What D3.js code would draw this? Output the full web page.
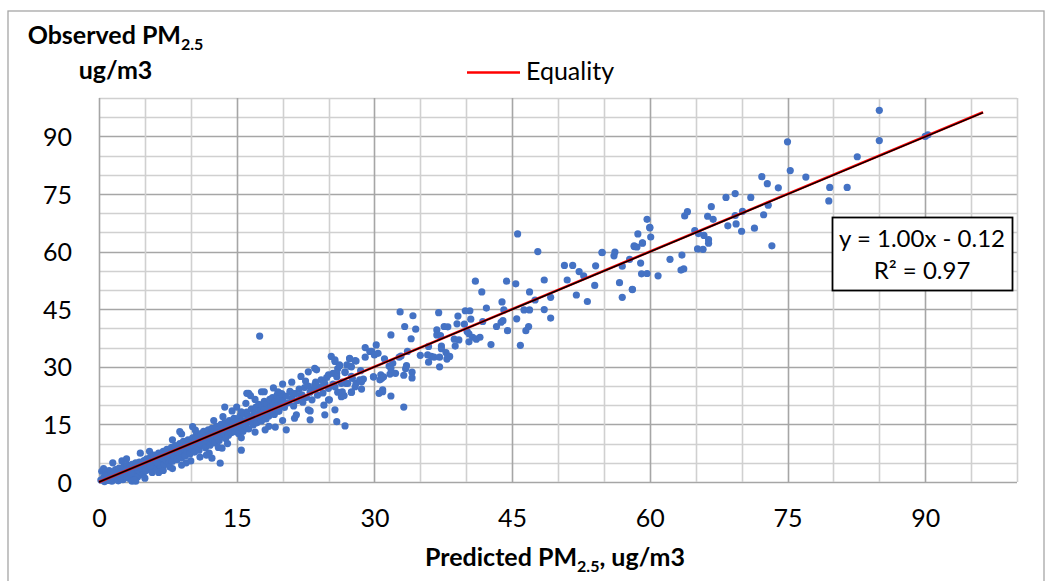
<!DOCTYPE html>
<html>
<head>
<meta charset="utf-8">
<script src="https://cdn.jsdelivr.net/npm/d3@7"></script>
<style>
  html, body { margin: 0; padding: 0; background: #fff; }
  svg { display: block; }
  text { font-family: Lato, "Open Sans", "Liberation Sans", sans-serif; fill: #000; }
</style>
</head>
<body>
<svg id="chart" width="1048" height="581"></svg>
<script>
// ---------------- data ----------------
const xTickLabels = [0, 15, 30, 45, 60, 75, 90];
const yTickLabels = [0, 15, 30, 45, 60, 75, 90];
const gridStep = 5;
const axisMax = 100;
const equalityExtent = [0, 96.3];
const trendSlope = 1.00;
const trendIntercept = -0.12;
const equationText = "y = 1.00x - 0.12";
const r2Text = "R² = 0.97";
const legendLabel = "Equality";

// dense band of points, predicted 0–25
const lowBand = [
[0.2,0.5],[0.3,2.8],[0.5,1.2],[0.6,0.1],[0.8,2.0],[1.0,0.4],[1.1,3.0],[1.2,1.5],[1.4,0.2],[1.5,2.4],[1.6,1.0],[1.8,3.2],[1.9,0.8],[2.0,2.0],[2.1,0.3],[2.2,3.6],[2.4,1.6],[2.5,2.8],[2.6,0.6],[2.7,4.0],[2.8,2.2],[3.0,1.2],[3.0,3.4],[3.1,4.4],[3.2,2.6],[3.3,0.9],[3.4,3.9],[3.5,1.8],[3.6,4.6],[3.7,2.9],[3.8,0.5],[3.9,3.5],[4.0,5.0],[4.0,2.1],[4.1,4.1],[4.2,1.3],[4.3,3.2],[4.4,5.2],[4.5,2.6],[4.6,4.5],[4.7,3.6],[4.8,1.9],[4.9,5.6],[5.0,3.9],[5.0,4.8],
[5.1,2.9],[5.2,6.0],[5.3,4.3],[5.4,5.3],[5.5,3.3],[5.6,6.4],[5.7,4.9],[5.8,2.5],[5.9,5.8],[6.0,4.1],[6.0,7.0],[6.1,5.4],[6.2,3.6],[6.3,6.6],[6.4,4.8],[6.5,7.5],[6.6,5.9],[6.7,3.9],[6.8,6.9],[6.9,5.2],[7.0,8.0],[7.0,6.2],[7.1,4.5],[7.2,7.3],[7.3,5.7],[7.4,8.5],[7.5,6.6],[7.6,4.9],[7.7,7.8],[7.8,6.0],[7.9,9.0],[8.0,7.1],[8.0,5.4],[8.1,8.4],[8.2,6.5],[8.3,9.5],[8.4,7.6],[8.5,5.8],[8.6,8.9],[8.7,7.0],[8.8,10.0],[8.9,8.1],[9.0,6.3],[9.0,9.3],[9.1,7.5],[9.2,10.6],[9.3,8.6],[9.4,6.8],[9.5,9.8],[9.6,8.0],[9.7,11.0],[9.8,9.0],[9.9,7.3],[10.0,10.4],
[10.1,8.5],[10.2,11.5],[10.3,9.6],[10.4,7.8],[10.5,10.9],[10.6,12.2],[10.7,9.1],[10.8,11.6],[10.9,8.3],[11.0,10.4],[11.1,12.6],[11.2,9.7],[11.3,11.2],[11.4,13.2],[11.5,10.0],[11.6,8.9],[11.7,12.0],[11.8,10.8],[11.9,13.6],[12.0,11.4],[12.1,9.6],[12.2,12.7],[12.3,14.0],[12.4,11.0],[12.5,13.1],[12.6,10.2],[12.7,12.3],[12.8,14.5],[12.9,11.6],[13.0,13.6],[13.1,10.8],[13.2,12.9],[13.3,15.0],[13.4,11.9],[13.5,14.0],[13.6,12.5],[13.7,15.5],[13.8,11.3],[13.9,13.3],[14.0,14.8],[14.1,12.2],[14.2,16.0],[14.3,13.9],[14.4,12.8],[14.5,15.2],[14.6,14.4],[14.7,16.6],[14.8,13.1],[14.9,15.7],[15.0,14.0],
[15.1,16.5],[15.2,12.6],[15.3,15.0],[15.4,17.3],[15.5,14.2],[15.6,16.0],[15.7,13.2],[15.8,17.8],[15.9,15.4],[16.0,14.6],[16.1,18.2],[16.2,16.4],[16.3,13.8],[16.4,17.0],[16.5,15.6],[16.6,19.0],[16.7,16.9],[16.8,14.9],[16.9,18.0],[17.0,16.2],[17.1,19.5],[17.2,15.4],[17.3,17.6],[17.4,20.2],[17.5,16.8],[17.6,18.6],[17.7,15.9],[17.8,19.8],[17.9,17.4],[18.0,21.0],[18.1,18.2],[18.2,16.4],[18.3,20.4],[18.4,19.0],[18.5,17.2],[18.6,21.5],[18.7,19.6],[18.8,18.0],[18.9,22.0],[19.0,20.2],[19.1,17.6],[19.2,21.0],[19.3,19.0],[19.4,22.6],[19.5,20.6],[19.6,18.4],[19.7,21.8],[19.8,20.0],[19.9,23.0],[20.0,21.2],
[20.2,19.4],[20.4,22.4],[20.6,20.6],[20.8,23.6],[21.0,21.8],[21.2,19.8],[21.4,23.0],[21.6,21.2],[21.8,24.2],[22.0,22.5],[22.2,20.8],[22.4,24.6],[22.6,22.0],[22.8,25.0],[23.0,23.4],[23.2,21.4],[23.4,24.2],[23.6,26.0],[23.8,22.6],[24.0,24.8],[24.2,26.6],[24.4,23.2],[24.6,25.6],[24.8,27.2],[25.0,24.4],
[1.5,5.0],[2.5,5.5],[0.5,3.5],[3.0,6.0],[4.5,7.5],[5.5,8.0],[4.0,0.2],[5.0,1.0],[6.5,2.5],[7.0,3.0],[8.0,3.5],[3.6,0.2],[9.5,5.0],[10.0,5.5],[11.0,6.5],[12.0,7.5],[12.5,16.0],[10.5,13.5],[9.0,12.5],[8.0,11.0],[13.5,17.0],[14.5,18.5],[15.0,19.5],[16.0,20.5],[17.0,21.5],[16.5,22.5],[18.0,23.5],[19.0,24.5],[20.0,25.5],[21.0,26.0],[22.0,27.5],[13.0,9.0],[14.0,10.0],[15.5,11.5],[17.0,13.0],[18.5,14.5],[20.0,16.0],[21.5,17.5],[23.0,18.5],[24.5,20.0],[26.0,29.5],[27.0,30.5],[28.0,31.5],[29.0,32.5],[28.5,29.0],[27.5,27.5],[26.5,26.0],[25.5,25.5],
[0.9,1.6],[1.3,2.6],[2.3,1.1],[2.9,3.1],[3.5,2.4],[4.3,4.6],[5.6,4.2],[6.3,5.2],[7.5,7.2],[8.6,7.8],[9.8,10.2],[10.9,10.0],[11.9,11.8],[12.8,12.8],[13.9,14.2],[14.9,14.7],[16.0,16.0],[17.0,17.2],[18.0,18.8],[19.0,19.1]
];

// scattered points, predicted 9–35
const midScatter = [
[17.5,38.0],[29.7,34.0],[25.7,31.4],[26.2,30.5],[27.3,32.1],
[22.8,28.7],[23.5,29.6],[23.7,29.2],[25.0,27.9],[25.9,28.3],[26.8,28.7],[27.5,30.0],
[22.5,26.3],[23.5,25.3],[24.5,25.7],[25.7,24.8],[26.9,25.7],[27.9,24.8],[28.6,26.1],[29.9,27.4],[30.8,27.0],[30.9,23.5],
[16.1,23.1],[17.7,23.5],[19.5,23.5],[21.1,23.1],[22.1,22.7],
[25.0,21.4],[26.4,22.2],[27.5,23.4],[25.7,18.8],[24.6,17.5],[25.9,15.7],[26.8,14.6],
[22.8,18.8],[23.0,16.2],[21.3,16.6],[20.4,13.6],[19.2,14.3],[18.1,13.6],
[13.7,19.5],[15.5,18.3],[16.3,23.1],
[15.5,8.3],[13.2,4.9],[12.3,6.2],[11.7,7.0],[13.4,8.8],
[9.0,4.4],[7.7,4.0],[3.9,0.5],[10.2,14.4],[8.8,13.1],
[29.0,35.0],[30.2,35.7],[29.5,34.0],[30.0,33.1],[30.4,33.5],
[31.1,32.1],[32.0,30.9],[31.6,30.2],[33.5,30.3],[33.4,29.5],[33.2,27.8],[34.1,28.6],[34.1,27.1],
[32.3,28.3],[31.7,28.1],[31.8,29.5],[30.7,27.9],[29.9,27.4],[30.6,26.6],[31.0,27.4],
[30.5,23.1],[30.9,24.0],[31.8,22.4],[33.2,19.5],[28.6,24.2],[27.5,23.4],[26.7,22.5],[26.5,23.5],[26.0,23.4],[25.1,21.4],
[28.0,25.7],[28.4,26.6],[28.8,26.8],[27.1,25.7],[27.6,27.0],[26.8,28.5],
[27.3,32.2],[27.9,31.6],[27.4,30.1],[25.3,32.7],[25.7,31.8],[26.2,30.2],[25.5,28.3],[25.9,27.4],[26.4,25.7]
];

// scattered points, predicted 32–91
const highScatter = [
[32.8,44.3],[34.2,43.3],[33.3,40.5],[34.5,39.8],[31.8,38.3],[34.0,37.3],[33.6,34.0],[32.9,32.8],[32.7,32.5],
[35.9,35.3],[35.8,33.1],[36.2,32.7],[35.9,31.2],[36.5,32.5],[37.1,32.5],[37.1,30.0],[35.0,33.0],
[37.6,40.5],[38.0,40.4],[36.8,39.6],[37.0,44.1],[36.8,38.3],[37.2,38.1],[37.3,35.4],[37.3,34.7],
[37.8,33.7],[38.0,32.8],[38.2,32.7],[37.9,32.0],
[38.7,37.2],[38.8,35.4],[39.2,37.0],[39.9,44.6],[40.4,44.6],[40.5,42.4],[39.1,43.2],[39.0,41.2],[39.8,41.1],
[40.1,39.2],[40.3,38.6],[40.7,37.7],[41.1,37.2],[41.5,37.7],[40.3,36.5],
[41.0,52.3],[41.7,49.5],[42.2,45.3],[41.8,41.8],[42.7,35.8],[43.3,40.5],[43.8,41.6],[44.0,42.0],[44.5,39.4],
[43.9,46.9],[44.1,44.8],[44.4,52.3],[45.4,51.6],[45.6,64.6],[45.5,42.5],[45.9,35.6],[46.3,44.8],[46.9,44.8],
[46.5,39.4],[46.8,40.5],[46.9,49.5],[47.5,47.4],[47.8,60.0],[48.5,52.6],[48.5,44.9],[49.2,42.7],[49.2,48.1],
[50.7,56.4],[51.6,56.4],[51.0,52.6],[52.0,48.7],[52.3,54.8],[52.8,53.7],[53.2,47.0],[54.0,51.2],[54.1,56.3],
[54.8,59.7],[54.8,59.8],[56.2,59.9],[56.1,58.9],[56.7,51.9],[57.0,48.1],[57.0,56.2],[57.8,58.0],[58.1,50.1],[58.1,50.2],
[58.3,61.3],[58.3,61.5],[58.6,61.2],[58.7,64.6],[59.2,62.2],[59.2,62.3],[59.0,57.0],[59.1,54.2],[59.7,54.3],
[59.7,68.4],[60.0,66.2],[60.0,66.3],[60.1,63.8],[60.9,53.7],[62.2,58.0],[63.4,55.2],[63.7,55.5],[63.5,59.1],
[63.8,69.3],[64.1,70.4],[64.9,65.5],[65.3,64.7],[65.9,64.2],[66.4,63.1],[66.4,62.2],[65.2,60.7],[65.8,60.6],
[66.7,71.7],[66.3,69.2],[66.9,68.4],[68.3,74.1],[69.3,75.1],[68.5,66.7],[69.3,69.4],[69.4,67.2],[70.0,65.3],
[70.1,70.5],[71.0,74.1],[71.4,66.1],[72.2,79.5],[72.8,77.7],[72.9,72.1],[72.4,69.6],[73.3,61.5],[74.0,76.6],
[75.0,88.6],[75.3,81.1],[77.0,79.4],[79.6,76.7],[79.5,73.2],[81.5,76.7],[82.6,84.7],[85.0,96.8],[85.0,88.9],
[90.0,90.0],[90.3,90.4]
];

// ---------------- drawing ----------------
const svg = d3.select("#chart");
const plot = { left: 99, right: 1017, top: 98, bottom: 482 };

const x = d3.scaleLinear().domain([0, axisMax]).range([plot.left, plot.right]);
const y = d3.scaleLinear().domain([0, axisMax]).range([plot.bottom, plot.top]);

// outer chart border
svg.append("rect")
  .attr("x", 8).attr("y", 11).attr("width", 1036).attr("height", 600)
  .attr("fill", "#fff").attr("stroke", "#a6a6a6").attr("stroke-width", 1.3);

// gridlines
const gridVals = d3.range(0, axisMax + 0.001, gridStep);
const isMajor = v => v % 15 === 0;
const grid = svg.append("g");
grid.selectAll("line.h").data(gridVals).join("line")
  .attr("x1", plot.left).attr("x2", plot.right)
  .attr("y1", d => Math.round(y(d)) + 0.5).attr("y2", d => Math.round(y(d)) + 0.5)
  .attr("stroke", d => isMajor(d) ? "#a6a6a6" : "#d0d0d0")
  .attr("stroke-width", 1.6);
grid.selectAll("line.v").data(gridVals).join("line")
  .attr("y1", plot.top).attr("y2", plot.bottom)
  .attr("x1", d => Math.round(x(d)) + 0.5).attr("x2", d => Math.round(x(d)) + 0.5)
  .attr("stroke", d => isMajor(d) ? "#a6a6a6" : "#d0d0d0")
  .attr("stroke-width", 1.6);

// axes (labels only, no tick marks)
const xAxis = d3.axisBottom(x).tickValues(xTickLabels).tickSize(0).tickPadding(36);
const yAxis = d3.axisLeft(y).tickValues(yTickLabels).tickSize(0).tickPadding(27);
const gx = svg.append("g").attr("transform", `translate(0,${plot.bottom})`).call(xAxis);
const gy = svg.append("g").attr("transform", `translate(${plot.left},0)`).call(yAxis);
[gx, gy].forEach(g => {
  g.select(".domain").remove();
  g.selectAll("text").attr("font-size", 25).attr("font-family", "Lato, sans-serif").attr("fill", "#000");
});
gy.selectAll("text").attr("dy", "0.36em");
gx.selectAll("text").attr("dy", "0.36em");

// points
const allPoints = lowBand.concat(midScatter, highScatter);
svg.append("g").selectAll("circle").data(allPoints).join("circle")
  .attr("cx", d => x(d[0])).attr("cy", d => y(d[1])).attr("r", 3.6)
  .attr("fill", "#4472C4");

// equality line (red) and trend line (black)
svg.append("line")
  .attr("x1", x(equalityExtent[0])).attr("y1", y(equalityExtent[0]))
  .attr("x2", x(equalityExtent[1])).attr("y2", y(equalityExtent[1]))
  .attr("stroke", "#ff0000").attr("stroke-width", 2.6);
const tx0 = equalityExtent[0], tx1 = equalityExtent[1];
svg.append("line")
  .attr("x1", x(tx0)).attr("y1", y(Math.max(0, trendSlope * tx0 + trendIntercept)))
  .attr("x2", x(tx1)).attr("y2", y(trendSlope * tx1 + trendIntercept))
  .attr("stroke", "#000").attr("stroke-width", 1.5);

// legend
svg.append("line").attr("x1", 467).attr("x2", 520).attr("y1", 72.5).attr("y2", 72.5)
  .attr("stroke", "#ff0000").attr("stroke-width", 2.6);
svg.append("text").attr("x", 526).attr("y", 80).attr("font-size", 25).text(legendLabel);

// equation box
svg.append("rect").attr("x", 832.5).attr("y", 217.5).attr("width", 180).attr("height", 73)
  .attr("fill", "#fff").attr("stroke", "#000").attr("stroke-width", 1.8);
svg.append("text").attr("x", 922).attr("y", 247).attr("text-anchor", "middle")
  .attr("font-size", 24).text(equationText);
svg.append("text").attr("x", 922).attr("y", 279).attr("text-anchor", "middle")
  .attr("font-size", 24).text(r2Text);

// y axis title
const yt = svg.append("text").attr("x", 115.5).attr("y", 44).attr("text-anchor", "middle")
  .attr("font-size", 25).attr("font-weight", "bold");
yt.append("tspan").text("Observed PM");
yt.append("tspan").attr("font-size", 16).attr("dy", 6).text("2.5");
svg.append("text").attr("x", 115.5).attr("y", 79).attr("text-anchor", "middle")
  .attr("font-size", 25).attr("font-weight", "bold").text("ug/m3");

// x axis title
const xt = svg.append("text").attr("x", 555).attr("y", 566).attr("text-anchor", "middle")
  .attr("font-size", 25).attr("font-weight", "bold");
xt.append("tspan").text("Predicted PM");
xt.append("tspan").attr("font-size", 16).attr("dy", 6).text("2.5");
xt.append("tspan").attr("dy", -6).text(", ug/m3");
</script>
</body>
</html>
